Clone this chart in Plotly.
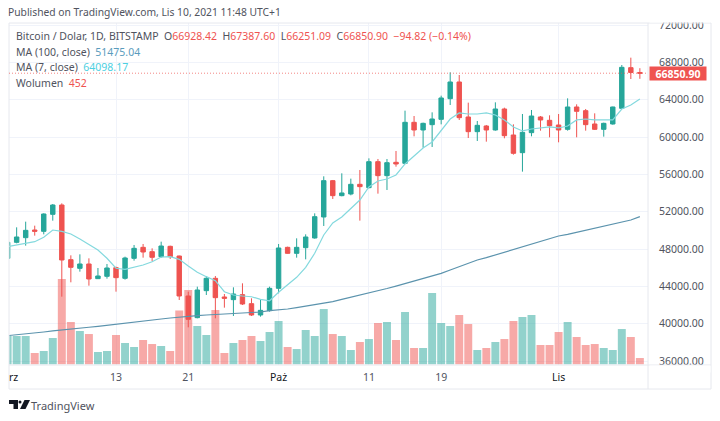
import pandas as pd
import plotly.graph_objects as go

dates = pd.date_range("2021-09-01", "2021-11-10").strftime("%Y-%m-%d").tolist()

opens = [47006, 48721, 49222, 50043, 49900, 51723, 52723, 46863, 45934, 46399, 44827, 45077, 46006, 44863, 47006, 48185, 47721, 47185, 48293, 47256, 42969, 40646, 43540, 44863, 42862, 42576, 43112, 42147, 40932, 41397,
         43791, 48185, 47542, 48150, 49186, 51438, 55333, 53725, 53903, 54940, 54582, 57369, 55869, 57298, 57191, 61586, 60764, 61335, 61907, 64122, 65909, 62157, 60585, 61193, 60764, 63015, 60228, 58334, 60478, 62157, 61800,
         61300, 60835, 63229, 62836, 61407, 60835, 61407, 63086, 67445, 66928.42]
highs = [48793, 50329, 50937, 50508, 51830, 52830, 52902, 47328, 47435, 47006, 45970, 46399, 46113, 47185, 48436, 48543, 48078, 48793, 48364, 47290, 43433, 43969, 45113, 45113, 43183, 43898, 44327, 42719, 42612, 43969,
         48543, 48257, 49150, 49579, 51830, 55797, 55404, 56119, 55547, 56476, 57726, 57655, 57655, 58513, 62836, 62264, 61550, 62657, 64444, 66945, 66659, 63693, 61729, 61300, 63729, 63158, 61371, 62479, 62908, 62264, 62336,
         62479, 64158, 63515, 63015, 62550, 61550, 63265, 67731, 68517, 67387.60]
lows = [46935, 48614, 48364, 49436, 49579, 51044, 42897, 44434, 45577, 44076, 44791, 44827, 43433, 44720, 46756, 47078, 46685, 47078, 46935, 42540, 39610, 40575, 43076, 40575, 41718, 40825, 42004, 40825, 40754, 41290,
        43255, 47507, 47078, 46899, 49114, 50473, 53368, 53653, 53761, 51045, 54511, 53939, 54332, 56833, 57119, 60085, 58870, 58941, 61371, 63443, 61836, 59906, 59585, 59513, 60692, 59871, 58120, 56298, 60085, 60692, 59978,
        59442, 60692, 59978, 60692, 60764, 60049, 61336, 63086, 66230, 66251.09]
closes = [48721, 49293, 50008, 49900, 51758, 52723, 46828, 46042, 46399, 44791, 45113, 45970, 44934, 47042, 48078, 47685, 47114, 48328, 47185, 42969, 40468, 43612, 44863, 42790, 42719, 43183, 42111, 40932, 41432, 43791,
          48114, 47542, 48185, 49293, 51473, 55333, 53725, 54011, 54940, 54690, 57369, 55869, 57262, 57119, 61586, 60764, 61478, 61943, 64194, 65909, 62086, 60585, 61264, 60764, 63015, 60156, 58263, 60514, 62264, 61836, 61228,
          60764, 63229, 62765, 61336, 60835, 61478, 63229, 67481, 66930, 66850.90]
volumes = [2040, 2040, 2040, 815, 960, 1895, 6140, 3045, 2400, 2180, 885, 960, 2110, 1535, 1245, 1750, 1460, 1320, 960, 3875, 5350, 2760, 2110, 3910, 815, 1535, 1750, 2040, 1680, 2325,
           3120, 1245, 1100, 2470, 2040, 3980, 2180, 2040, 1030, 1605, 1820, 2975, 3045, 1750, 3765, 1175, 1175, 5135, 2975, 2760, 3550, 2900, 1030, 1175, 1605, 1820, 3120, 3405, 3550, 1390, 1390,
           2325, 3045, 1965, 1390, 1460, 1175, 1030, 2540, 1965, 452]
ma7 = [48250, 48435, 48620, 48790, 49260, 50040, 49900, 49610, 49080, 48510, 47900, 47010, 45940, 45830, 46045, 46290, 46645, 47150, 47180, 46900, 46180, 45510, 45040, 44610, 43430, 43075, 42970, 42890, 42610, 42460,
       43365, 44150, 44970, 46045, 47545, 49510, 50795, 51440, 52400, 53260, 54650, 55300, 55510, 55940, 57120, 57980, 58830, 59480, 60760, 61940, 62590, 62480, 62480, 62590, 62370, 61840, 61090, 60660, 60870, 60980, 61090,
       60980, 61190, 61840, 61940, 61840, 61840, 61840, 63010, 63440, 64098.17]
ma100 = [38720, 38800, 38900, 39000, 39110, 39220, 39340, 39440, 39530, 39620, 39720, 39820, 39930, 40040, 40150, 40270, 40390, 40500, 40610, 40720, 40825, 40870, 40930, 40990, 41050, 41110, 41170, 41254, 41254, 41397,
         41468, 41575, 41718, 41861, 42004, 42183, 42361, 42611, 42826, 43060, 43300, 43530, 43770, 44030, 44291, 44577, 44862, 45112, 45398, 45756, 46113, 46470, 46827, 47078, 47363, 47649, 48007, 48257, 48543, 48828, 49114,
         49400, 49579, 49793, 50008, 50222, 50436, 50651, 50865, 51115, 51475.04]

month_ticks = ["2021-09-13", "2021-09-21", "2021-10-01", "2021-10-11", "2021-10-19", "2021-11-01"]
month_labels = ["13", "21", "<span style='color:#131722'>Paż</span>", "11", "19", "<span style='color:#131722'>Lis</span>"]

green = "#26a69a"
red = "#ef5350"
grey = "#50535e"
grid = "#f0f3fa"
edge = "#e6e8ee"
font = "Noto Sans"


# chrome is placed in screen pixels, converted to paper coordinates
def px(x):
    return (x - 9) / 639


def py(y):
    return (365 - y) / 342


def poly(points):
    return "M " + " L ".join(f"{px(a)} {py(b)}" for a, b in points) + " Z"


vol_colors = ["rgba(38,166,154,0.5)" if c >= o else "rgba(239,83,80,0.5)" for o, c in zip(opens, closes)]

fig = go.Figure()
fig.add_trace(go.Bar(x=dates, y=volumes, marker=dict(color=vol_colors, line=dict(width=0)), width=76000000))
fig.add_trace(go.Candlestick(
    x=dates, open=opens, high=highs, low=lows, close=closes, yaxis="y2", whiskerwidth=0,
    increasing=dict(line=dict(color=green, width=1), fillcolor=green),
    decreasing=dict(line=dict(color=red, width=1), fillcolor=red),
))
fig.add_trace(go.Scatter(x=dates, y=ma100, yaxis="y2", mode="lines", line=dict(color="#5b93ad", width=1.2)))
fig.add_trace(go.Scatter(x=dates, y=ma7, yaxis="y2", mode="lines", line=dict(color="#84d9de", width=1.2)))

header = (
    "Bitcoin / Dolar, 1D, BITSTAMP&nbsp;&nbsp;"
    f"O<span style='color:{red}'>66928.42</span>&nbsp;&nbsp;H<span style='color:{red}'>67387.60</span>&nbsp;&nbsp;"
    f"L<span style='color:{red}'>66251.09</span>&nbsp;&nbsp;C<span style='color:{red}'>66850.90</span>&nbsp;&nbsp;"
    f"<span style='color:{red}'>−94.82 (−0.14%)</span>"
)
rows = [
    (36, header),
    (52, "MA (100, close)&nbsp;&nbsp;<span style='color:#5a9cbd'>51475.04</span>"),
    (67, "MA (7, close)&nbsp;&nbsp;<span style='color:#4dd0e1'>64098.17</span>"),
    (83, f"Wolumen&nbsp;&nbsp;<span style='color:{red}'>452</span>"),
]
annotations = [
    dict(xref="paper", yref="paper", x=px(9), y=py(12), text="Published on TradingView.com, Lis 10, 2021 11:48 UTC+1",
         showarrow=False, xanchor="left", yanchor="middle", xshift=-3, font=dict(size=10.3, color=grey, family=font)),
    dict(xref="paper", yref="paper", x=px(13), y=py(377), text="rz", showarrow=False, xanchor="center", yanchor="middle",
         font=dict(size=10.5, color="#131722", family=font)),
    dict(xref="paper", yref="paper", x=px(29), y=py(405), text="TradingView", showarrow=False, xanchor="left", yanchor="middle",
         font=dict(size=11, color=grey, family=font)),
    # white strips clip the 72000 and 36000 labels at the pane edges
    dict(xref="paper", yref="paper", x=px(680), y=py(20), text="&nbsp;", showarrow=False, width=60, height=5, bgcolor="white",
         xanchor="center", yanchor="middle", borderpad=0, font=dict(size=4)),
    dict(xref="paper", yref="paper", x=px(680), y=py(369), text="&nbsp;", showarrow=False, width=60, height=6, bgcolor="white",
         xanchor="center", yanchor="middle", borderpad=0, font=dict(size=4)),
    dict(xref="paper", yref="y2", x=px(649), y=closes[-1], text="<b>66850.90</b>", showarrow=False, xanchor="left", yanchor="middle",
         width=56, height=13, align="center", bgcolor=red, borderpad=0, font=dict(size=10.5, color="white", family=font)),
]
for y_pos, text in rows:
    annotations.append(dict(xref="paper", yref="paper", x=px(14), y=py(y_pos), text=text, showarrow=False,
                            xanchor="left", yanchor="middle", font=dict(size=10.5, color=grey, family=font)))

shapes = [
    dict(type="rect", xref="paper", yref="paper", x0=px(9), x1=px(711), y0=py(389), y1=py(23), line=dict(color=edge, width=1)),
    dict(type="line", xref="paper", yref="paper", x0=px(648), x1=px(648), y0=py(389), y1=py(23), line=dict(color=edge, width=1)),
    dict(type="line", xref="paper", yref="paper", x0=px(9), x1=px(711), y0=py(365), y1=py(365), line=dict(color=edge, width=1)),
    dict(type="line", xref="paper", yref="y2", x0=0, x1=1, y0=closes[-1], y1=closes[-1],
         line=dict(color="rgba(239,83,80,0.7)", width=1, dash="1px,2px")),
    dict(type="path", xref="paper", yref="paper", fillcolor="#131722", line_width=0,
         path=poly([(9, 400), (18, 400), (18, 409), (13.5, 409), (13.5, 404), (9, 404)])),
    dict(type="circle", xref="paper", yref="paper", x0=px(18.5), x1=px(21.5), y0=py(403.5), y1=py(400.5), fillcolor="#131722", line_width=0),
    dict(type="path", xref="paper", yref="paper", fillcolor="#131722", line_width=0,
         path=poly([(24.5, 400), (30, 400), (25.5, 409), (20, 409)])),
]

price_range = [35571, 72233]
fig.update_layout(
    width=720, height=421, showlegend=False, boxgap=0.3,
    paper_bgcolor="white", plot_bgcolor="white",
    margin=dict(l=9, r=72, t=23, b=56, autoexpand=False),
    font=dict(family=font, size=10.5, color=grey),
    annotations=annotations, shapes=shapes,
    xaxis=dict(type="date", range=["2021-09-01 03:40", "2021-11-10 21:36"], rangeslider_visible=False,
               tickmode="array", tickvals=month_ticks, ticktext=month_labels, ticks="", showgrid=True, gridcolor=grid,
               gridwidth=1, zeroline=False, showline=False, ticklabelstandoff=4, tickfont=dict(size=10.5, color=grey)),
    yaxis=dict(range=[-50, 24574], showticklabels=False, ticks="", showgrid=False, zeroline=False, showline=False),
    yaxis2=dict(overlaying="y", side="right", range=price_range, tick0=36000, dtick=4000, tickformat=".2f", showgrid=True, gridcolor=grid,
                ticks="", zeroline=False, showline=False, ticklabelstandoff=10, tickfont=dict(size=10.5, color=grey)),
)

fig.write_html("out.html", config=dict(displayModeBar=False), post_script="document.body.style.margin='0';")
